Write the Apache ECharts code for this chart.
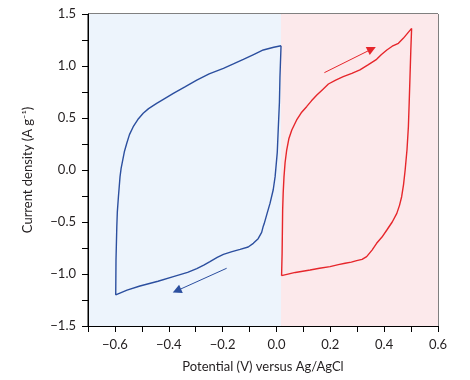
<!DOCTYPE html>
<html><head><meta charset="utf-8">
<script src="https://cdn.jsdelivr.net/npm/echarts@6/dist/echarts.min.js"></script>
<style>html,body{margin:0;padding:0;background:#fff}#c{width:470px;height:380px}</style>
</head><body><div id="c"></div>
<script>
// Blue (negative electrode) CV loop: potential (V) and current density (A/g)
var blueV = [0.017, -0.010, -0.049, -0.085, -0.123, -0.160, -0.197, -0.250, -0.296, -0.340, -0.383, -0.420, -0.445, -0.475, -0.495, -0.515, -0.532, -0.546, -0.556, -0.565, -0.571, -0.577, -0.581, -0.587, -0.591, -0.593, -0.596, -0.597,
             -0.555, -0.507, -0.440, -0.383, -0.330, -0.296, -0.270, -0.247, -0.220, -0.197, -0.165, -0.135, -0.105, -0.086, -0.068, -0.055, -0.049, -0.046, -0.035, -0.024, -0.012, -0.005, 0.003, 0.007, 0.011, 0.013, 0.017];
var blueC = [1.195, 1.180, 1.154, 1.110, 1.064, 1.020, 0.978, 0.925, 0.865, 0.800, 0.737, 0.680, 0.641, 0.590, 0.545, 0.485, 0.416, 0.340, 0.257, 0.175, 0.096, 0.015, -0.064, -0.257, -0.400, -0.545, -0.865, -1.200,
             -1.155, -1.115, -1.070, -1.026, -0.985, -0.949, -0.915, -0.881, -0.840, -0.811, -0.785, -0.763, -0.740, -0.705, -0.660, -0.600, -0.540, -0.520, -0.420, -0.321, -0.190, -0.064, 0.170, 0.416, 0.650, 0.897, 1.195];
// Red (positive electrode) CV loop
var redV = [0.019, 0.021, 0.023, 0.025, 0.028, 0.032, 0.038, 0.046, 0.057, 0.075, 0.092, 0.112, 0.130, 0.150, 0.172, 0.193, 0.220, 0.248, 0.280, 0.310, 0.340, 0.372, 0.390, 0.410, 0.430, 0.453, 0.471, 0.502,
            0.499, 0.496, 0.493, 0.490, 0.485, 0.478, 0.472, 0.465, 0.457, 0.447, 0.430, 0.410, 0.392, 0.372, 0.355, 0.335, 0.318, 0.298, 0.278, 0.255, 0.230, 0.199, 0.160, 0.125, 0.070, 0.019];
var redC = [-1.016, -0.800, -0.385, -0.220, -0.064, 0.070, 0.192, 0.300, 0.385, 0.481, 0.550, 0.609, 0.665, 0.721, 0.775, 0.827, 0.865, 0.897, 0.930, 0.962, 1.010, 1.064, 1.110, 1.154, 1.190, 1.218, 1.266, 1.362,
            1.150, 0.897, 0.650, 0.416, 0.200, 0.000, -0.140, -0.257, -0.340, -0.417, -0.500, -0.577, -0.645, -0.705, -0.770, -0.833, -0.860, -0.872, -0.886, -0.897, -0.910, -0.929, -0.945, -0.962, -0.985, -1.016];
// Direction arrows [start, end]
var blueArrow = [[-0.185, -0.945], [-0.370, -1.161]];
var redArrow = [[0.178, 0.936], [0.354, 1.163]];
// Shaded potential windows
var blueWindow = [-0.7, 0.017];
var redWindow = [0.017, 0.6];
// Axis ranges / ticks
var xRange = [-0.7, 0.6], xStep = 0.1;
var yRange = [-1.5, 1.5], yStep = 0.25;

function zip(a, b) { return a.map(function (v, i) { return [v, b[i]]; }); }
function fmt(v) { var s = Math.abs(v) < 1e-9 ? '0.0' : v.toFixed(1); return s.replace('-', '\u2212'); }

var FONT = 'Lato';
var TXT = '#231f20';
var BLUE = '#2c4f9f';
var RED = '#e6262b';

function arrowLine(pair, color) {
  return {
    silent: true, symbol: ['none', 'triangle'], symbolSize: 9, label: { show: false },
    lineStyle: { color: color, width: 1, type: 'solid' },
    itemStyle: { color: color },
    emphasis: { disabled: true },
    data: [[{ coord: pair[0] }, { coord: pair[1] }]]
  };
}

var axisCommon = {
  axisLine: { show: true, onZero: false, lineStyle: { color: '#000', width: 1 } },
  axisTick: { show: true, length: 6, inside: false, lineStyle: { color: '#000', width: 1 } },
  splitLine: { show: false }
};

var chart = echarts.init(document.getElementById('c'), null, { renderer: 'canvas' });
chart.setOption({
  animation: false,
  textStyle: { fontFamily: FONT },
  grid: { left: 88, right: 32, top: 14, bottom: 54, show: true, borderColor: '#000', borderWidth: 1, backgroundColor: 'transparent', z: 1 },
  xAxis: Object.assign({}, axisCommon, {
    type: 'value', min: xRange[0], max: xRange[1], interval: xStep, z: 5,
    name: 'Potential (V) versus Ag/AgCl', nameLocation: 'middle', nameGap: 34,
    nameTextStyle: { fontFamily: FONT, fontSize: 13, color: TXT },
    axisLabel: { fontFamily: FONT, fontSize: 13, color: TXT, margin: 12,
      formatter: function (v) { return Math.round(v * 10) % 2 === 0 ? fmt(v) : ''; } }
  }),
  yAxis: Object.assign({}, axisCommon, {
    type: 'value', min: yRange[0], max: yRange[1], interval: yStep, z: 5,
    name: 'Current density (A g\u207B\u00B9)', nameLocation: 'middle', nameGap: 54,
    nameTextStyle: { fontFamily: FONT, fontSize: 13, color: TXT },
    axisLabel: { fontFamily: FONT, fontSize: 13, color: TXT, margin: 12,
      formatter: function (v) { return Math.round(v * 4) % 2 === 0 ? fmt(v) : ''; } }
  }),
  series: [
    {
      type: 'line', data: [[xRange[0], yRange[0]]], showSymbol: false, silent: true, z: 0,
      lineStyle: { opacity: 0 },
      markArea: { silent: true, data: [
        [{ xAxis: blueWindow[0], itemStyle: { color: '#edf4fc' } }, { xAxis: blueWindow[1] }],
        [{ xAxis: redWindow[0], itemStyle: { color: '#fce9eb' } }, { xAxis: redWindow[1] }]
      ] }
    },
    {
      type: 'line', data: zip(blueV, blueC), showSymbol: false, z: 3,
      lineStyle: { color: BLUE, width: 1.4 }, itemStyle: { color: BLUE },
      markLine: arrowLine(blueArrow, BLUE)
    },
    {
      type: 'line', data: zip(redV, redC), showSymbol: false, z: 3,
      lineStyle: { color: RED, width: 1.4 }, itemStyle: { color: RED },
      markLine: arrowLine(redArrow, RED)
    }
  ]
});
</script></body></html>
